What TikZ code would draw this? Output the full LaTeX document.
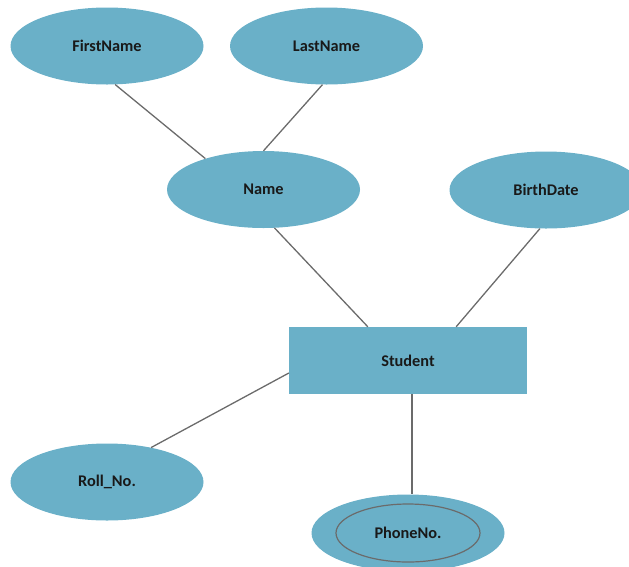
\documentclass[tikz,border=0pt]{standalone}
\usepackage{fontspec}
\setmainfont{Carlito}
\usetikzlibrary{shapes.geometric,calc}
\definecolor{erfill}{HTML}{6AB0C8}
\definecolor{erline}{HTML}{6B6B6B}
\tikzset{
  lbl/.style={font=\fontsize{16.3}{19}\selectfont\bfseries, text=black!90},
  attr/.style={ellipse, fill=erfill, draw=none, minimum width=193pt, minimum height=77pt, inner sep=0pt, lbl},
  entity/.style={rectangle, fill=erfill, draw=none, minimum width=238pt, minimum height=67pt, inner sep=0pt, lbl},
  inner/.style={ellipse, draw=erline, line width=1.2pt, fill=none, minimum width=144pt, minimum height=58pt, inner sep=0pt},
  conn/.style={draw=erline, line width=1.3pt}
}
\begin{document}
\begin{tikzpicture}[x=1pt,y=-1pt]
\useasboundingbox (0,0) rectangle (629,566);
\clip (0,0) rectangle (629,566);
\node[attr] (fn) at (107,46) {FirstName};
\node[attr] (ln) at (326.5,46) {LastName};
\node[attr] (nm) at (263.5,189.5) {Name};
\node[attr] (bd) at (546,190) {BirthDate};
\node[entity] (st) at (408,360.5) {Student};
\node[attr] (rn) at (107,482) {Roll\_No.};
\node[attr] (pn) at (408,533) {};
\node[inner] (pni) at (408,533) {};
\node[lbl] (pnt) at (408,533) {PhoneNo.};
\draw[conn] (fn.-78) -- (nm.152);
\draw[conn] (ln.-96) -- (nm.north);
\draw[conn] (nm.-74) -- (st.140);
\draw[conn] (bd.-99) -- (st.35);
\draw[conn] (st.186) -- (rn.38);
\draw[conn] ($(st.south)+(4,0)$) -- ($(pn.north)+(4,0)$);
\end{tikzpicture}
\end{document}
